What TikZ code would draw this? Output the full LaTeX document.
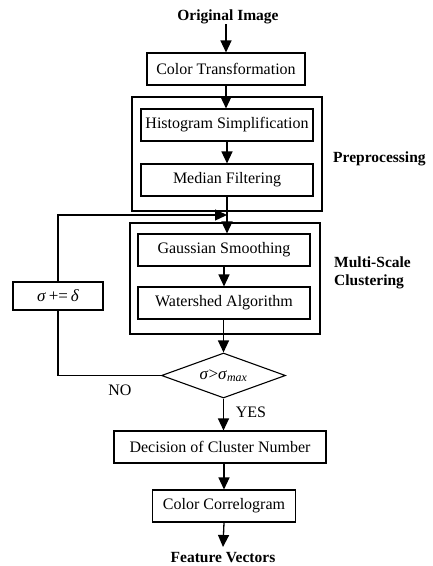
\documentclass[tikz,border=0pt]{standalone}
\usepackage{fontspec}
\setmainfont{Liberation Serif}
\usetikzlibrary{arrows.meta,shapes.geometric}
\begin{document}
\begin{tikzpicture}[x=1pt,y=-1pt,
  box/.style={draw, line width=1.1pt, minimum height=32pt, inner sep=0pt, font=\fontsize{16}{19}\selectfont},
  grp/.style={draw, line width=1.1pt, inner sep=0pt},
  lbl/.style={font=\fontsize{15.5}{18}\selectfont\bfseries, inner sep=0pt},
  txt/.style={font=\fontsize{16}{19}\selectfont, inner sep=0pt},
  arr/.style={line width=1.3pt, -{Triangle[length=12pt,width=11pt]}},
  ln/.style={line width=1.3pt}]
\useasboundingbox (0,0) rectangle (433,566);

\node[lbl] (orig) at (228,17) {Original Image};
\node[box, minimum width=158pt] (ct) at (226,69) {Color Transformation};

\node[grp, minimum width=190pt, minimum height=114pt] (prep) at (227,154) {};
\node[box, minimum width=172pt] (hist) at (227,125) {Histogram Simplification};
\node[box, minimum width=172pt] (med) at (227,180) {Median Filtering};
\node[lbl, anchor=west] (preplbl) at (333,159) {Preprocessing};

\node[grp, minimum width=190pt, minimum height=111pt] (ms) at (225,278.5) {};
\node[box, minimum width=172pt] (gau) at (224,250) {Gaussian Smoothing};
\node[box, minimum width=172pt] (ws) at (224,303) {Watershed Algorithm};
\node[lbl, anchor=west, align=left] (mslbl) at (334,273) {Multi-Scale\\Clustering};

\node[draw, line width=1.1pt, diamond, shape aspect=2.7, minimum width=124pt, minimum height=45pt, inner sep=0pt, font=\fontsize{17}{19}\selectfont] (dia) at (223.5,375.5) {\textit{σ}>\textit{σ}\textsubscript{\textit{max}}};

\node[box, minimum width=90pt, minimum height=28pt, font=\fontsize{17}{19}\selectfont] (inc) at (58,296) {\textit{σ}\,+=\,\textit{δ}};

\node[box, minimum width=212pt] (dec) at (220,447) {Decision of Cluster Number};
\node[box, minimum width=143pt] (cc) at (224,506) {Color Correlogram};
\node[lbl] (fv) at (223,558) {Feature Vectors};

\node[txt] (no) at (120,390) {NO};
\node[txt] (yes) at (251,412) {YES};

\coordinate (join) at (227,215);
\coordinate (fvtop) at (223,547);

\draw[arr] (orig.south -| ct.north) -- (ct.north);
\draw[arr] (ct.south) -- (ct.south |- hist.north);
\draw[arr] (hist.south) -- (med.north);
\draw[arr] (med.south) -- (med.south |- gau.north);
\draw[arr] (inc.north) |- (join);
\draw[arr] (gau.south) -- (gau.south |- ws.north);
\draw[arr] (ws.south -| dia.north) -- (dia.north);
\draw[ln] (dia.west) -| (inc.south);
\draw[arr] (dia.south) -- (dia.south |- dec.north);
\draw[arr] (dec.south -| cc.south) -- (cc.north);
\draw[arr] (cc.south) -- (fvtop);
\end{tikzpicture}
\end{document}
